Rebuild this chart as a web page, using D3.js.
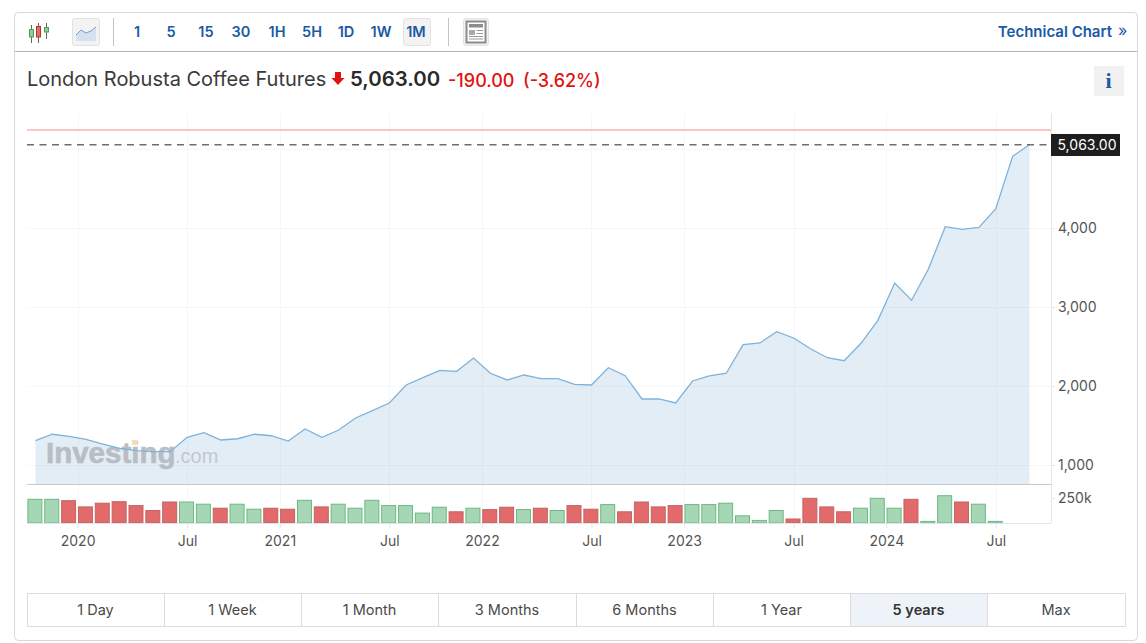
<!DOCTYPE html>
<html lang="en">
<head>
  <meta charset="UTF-8">
  <title>London Robusta Coffee Futures</title>
  <script src="https://d3js.org/d3.v7.min.js"></script>
  <style>
    html, body { margin: 0; background: #fff; }
    svg { display: block; font-family: Inter, "Liberation Sans", sans-serif; }
  </style>
</head>
<body>
  <div id="chart"></div>

  <script>
    // monthly closes, Oct 2019 to Sep 2024
    const months = [
      'Oct 2019', 'Nov 2019', 'Dec 2019', 'Jan 2020', 'Feb 2020', 'Mar 2020', 'Apr 2020', 'May 2020', 'Jun 2020', 'Jul 2020',
      'Aug 2020', 'Sep 2020', 'Oct 2020', 'Nov 2020', 'Dec 2020', 'Jan 2021', 'Feb 2021', 'Mar 2021', 'Apr 2021', 'May 2021',
      'Jun 2021', 'Jul 2021', 'Aug 2021', 'Sep 2021', 'Oct 2021', 'Nov 2021', 'Dec 2021', 'Jan 2022', 'Feb 2022', 'Mar 2022',
      'Apr 2022', 'May 2022', 'Jun 2022', 'Jul 2022', 'Aug 2022', 'Sep 2022', 'Oct 2022', 'Nov 2022', 'Dec 2022', 'Jan 2023',
      'Feb 2023', 'Mar 2023', 'Apr 2023', 'May 2023', 'Jun 2023', 'Jul 2023', 'Aug 2023', 'Sep 2023', 'Oct 2023', 'Nov 2023',
      'Dec 2023', 'Jan 2024', 'Feb 2024', 'Mar 2024', 'Apr 2024', 'May 2024', 'Jun 2024', 'Jul 2024', 'Aug 2024', 'Sep 2024'
    ];
    const closes = [
      1308, 1390, 1363, 1325, 1266, 1212, 1181, 1169, 1169, 1351,
      1410, 1317, 1333, 1390, 1371, 1304, 1457, 1351, 1444, 1596,
      1690, 1786, 2014, 2107, 2200, 2188, 2356, 2163, 2078, 2141,
      2094, 2094, 2023, 2014, 2233, 2132, 1837, 1837, 1786, 2065,
      2131, 2163, 2525, 2547, 2690, 2610, 2474, 2360, 2322, 2543,
      2834, 3307, 3089, 3485, 4021, 3988, 4013, 4249, 4913, 5063
    ];
    // volume in thousands
    const volumes = [
      237, 237, 223, 161, 198, 213, 174, 125, 210, 210,
      188, 148, 188, 138, 148, 138, 227, 161, 188, 148,
      227, 174, 174, 99, 158, 112, 148, 134, 158, 134,
      148, 125, 174, 138, 184, 112, 210, 161, 174, 184,
      184, 198, 72, 26, 125, 40, 247, 161, 112, 148,
      247, 148, 237, 16, 273, 210, 188, 16, 0, 0
    ];
    // u = green volume bar, d = red volume bar
    const volumeDirs = [
      'uudddddddu',
      'uduudduduu',
      'uuuuududdu',
      'duddudddd' + 'u',
      'uuuuuddddu',
      'uuduuduuuu'
    ].join('');
    const lastPrice = 5063;
    const prevClose = 5253;

    const xTickIndex = [2.5, 9, 14.5, 21, 26.5, 33, 38.5, 45, 50.5, 57];
    const xTickLabels = ['2020', 'Jul', '2021', 'Jul', '2022', 'Jul', '2023', 'Jul', '2024', 'Jul'];
    const priceTicks = [1000, 2000, 3000, 4000];
    const priceGrid = [1000, 2000, 3000, 4000, 5000];
    const volumeTicks = [250];

    const intervals = ['1', '5', '15', '30', '1H', '5H', '1D', '1W', '1M'];
    const intervalX = [137, 171, 206, 241, 277, 312, 346, 381, 416];
    const ranges = ['1 Day', '1 Week', '1 Month', '3 Months', '6 Months', '1 Year', '5 years', 'Max'];
    const rangeEdges = [27, 164, 301, 438, 576, 713, 850, 987, 1125];

    const blue = '#1a5aa5';
    const plotLeft = 27, plotRight = 1051, plotTop = 113, priceBottom = 484, volumeBottom = 523;

    const svg = d3.select('#chart').append('svg')
      .attr('width', 1146)
      .attr('height', 643);

    // card and toolbar
    svg.append('rect')
      .attr('x', 14.5).attr('y', 12.5)
      .attr('width', 1123).attr('height', 628)
      .attr('rx', 4)
      .attr('fill', '#fff')
      .attr('stroke', '#d8d8d8');
    svg.append('line')
      .attr('x1', 15).attr('x2', 1137)
      .attr('y1', 51.5).attr('y2', 51.5)
      .attr('stroke', '#b4b4b4');

    [113.5, 448.5].forEach(function(px) {
      svg.append('line')
        .attr('x1', px).attr('x2', px)
        .attr('y1', 18).attr('y2', 46)
        .attr('stroke', '#c4c4c4');
    });

    function toolButton(px, w) {
      svg.append('rect')
        .attr('x', px + 0.5).attr('y', 18.5)
        .attr('width', w).attr('height', 27)
        .attr('rx', 2)
        .attr('fill', '#f3f3f3')
        .attr('stroke', '#e2e2e2');
    }
    toolButton(72, 27);
    toolButton(403, 27);
    toolButton(463, 25);

    // candlestick icon
    const candleIcon = svg.append('g');
    [[31.5, 25, 43, 29.5, 37, '#8fce8f', '#4f9f52'], [38.5, 23, 43, 26.5, 37, '#ea6a60', '#a33c35'], [46.5, 23, 39, 27.5, 32, '#8fce8f', '#4f9f52']]
      .forEach(function(c) {
        candleIcon.append('line')
          .attr('x1', c[0]).attr('x2', c[0])
          .attr('y1', c[1]).attr('y2', c[2])
          .attr('stroke', '#666');
        candleIcon.append('rect')
          .attr('x', c[0] - 2).attr('y', c[3])
          .attr('width', 4).attr('height', c[4] - c[3])
          .attr('fill', c[5])
          .attr('stroke', c[6]);
      });

    // line chart icon
    svg.append('path')
      .attr('d', 'M76,35L81,30L86,33L91,31L96,27V41H76Z')
      .attr('fill', '#d5e1f0');
    svg.append('path')
      .attr('d', 'M76,35L81,30L86,33L91,31L96,27')
      .attr('fill', 'none')
      .attr('stroke', '#7d9cc4');

    // news icon
    svg.append('rect')
      .attr('x', 466.5).attr('y', 21.5)
      .attr('width', 19).attr('height', 21)
      .attr('fill', '#fff')
      .attr('stroke', '#8c8c8c')
      .attr('stroke-width', 2);
    svg.append('rect')
      .attr('x', 469).attr('y', 24)
      .attr('width', 14).attr('height', 3.5)
      .attr('fill', '#8c8c8c');
    svg.append('rect')
      .attr('x', 469).attr('y', 30)
      .attr('width', 6).attr('height', 5)
      .attr('fill', '#aaa');
    [30.5, 33.5, 36.5, 39].forEach(function(py, i) {
      svg.append('line')
        .attr('x1', i < 2 ? 476.5 : 469).attr('x2', 483)
        .attr('y1', py).attr('y2', py)
        .attr('stroke', '#999');
    });

    svg.selectAll('.interval')
      .data(intervals)
      .enter().append('text')
      .attr('class', 'interval')
      .attr('x', (d, i) => intervalX[i])
      .attr('y', 36.5)
      .attr('text-anchor', 'middle')
      .attr('font-size', 14.5)
      .attr('font-weight', 600)
      .attr('fill', blue)
      .text(d => d);

    svg.append('text')
      .attr('x', 1112).attr('y', 36.5)
      .attr('text-anchor', 'end')
      .attr('font-size', 15)
      .attr('font-weight', 600)
      .attr('fill', blue)
      .text('Technical Chart');
    svg.append('text')
      .attr('x', 1118).attr('y', 36)
      .attr('font-size', 16)
      .attr('fill', blue)
      .text('»');

    // quote header
    svg.append('text')
      .attr('x', 27).attr('y', 86)
      .attr('font-size', 20)
      .attr('fill', '#3a3a3a')
      .text('London Robusta Coffee Futures');
    svg.append('path')
      .attr('d', 'M335,72H341V78H344.5L338,85L331.5,78H335Z')
      .attr('fill', '#e0140f');
    svg.append('text')
      .attr('x', 350).attr('y', 86)
      .attr('font-size', 20.4)
      .attr('font-weight', 600)
      .attr('fill', '#2a2a2a')
      .text('5,063.00');
    svg.append('text')
      .attr('x', 448).attr('y', 87)
      .attr('font-size', 18)
      .attr('font-weight', 500)
      .attr('fill', '#e0140f')
      .text('-190.00');
    svg.append('text')
      .attr('x', 523).attr('y', 87)
      .attr('font-size', 18)
      .attr('font-weight', 500)
      .attr('fill', '#e0140f')
      .text('(-3.62%)');

    svg.append('rect')
      .attr('x', 1094).attr('y', 66)
      .attr('width', 30).attr('height', 30)
      .attr('fill', '#f1f1f1');
    svg.append('text')
      .attr('x', 1108.5).attr('y', 88)
      .attr('text-anchor', 'middle')
      .attr('font-family', '"Liberation Serif", serif')
      .attr('font-size', 22)
      .attr('font-weight', 700)
      .attr('fill', blue)
      .text('i');

    // scales
    const x = d3.scaleLinear()
      .domain([0, months.length - 1])
      .range([35.5, 1029.5]);
    const y = d3.scaleLinear()
      .domain([1000, lastPrice])
      .range([465, 144.5]);
    const yVolume = d3.scaleLinear()
      .domain([0, 250])
      .range([523, 498]);

    // grid
    svg.selectAll('.hgrid')
      .data(priceGrid)
      .enter().append('line')
      .attr('class', 'hgrid')
      .attr('x1', plotLeft).attr('x2', plotRight)
      .attr('y1', d => Math.round(y(d)) + 0.5)
      .attr('y2', d => Math.round(y(d)) + 0.5)
      .attr('stroke', '#f6f7f9');
    svg.selectAll('.vgrid')
      .data(xTickIndex)
      .enter().append('line')
      .attr('class', 'vgrid')
      .attr('x1', d => Math.round(x(d)) + 0.5)
      .attr('x2', d => Math.round(x(d)) + 0.5)
      .attr('y1', plotTop).attr('y2', volumeBottom)
      .attr('stroke', '#f6f7f9');

    // price area and line
    const area = d3.area()
      .x((d, i) => x(i))
      .y0(priceBottom)
      .y1(d => y(d));
    const line = d3.line()
      .x((d, i) => x(i))
      .y(d => y(d));

    svg.append('path')
      .datum(closes)
      .attr('d', area)
      .attr('fill', 'rgb(60,130,185)')
      .attr('fill-opacity', 0.14);

    // watermark sits between the area and the line
    svg.append('text')
      .attr('x', 46).attr('y', 463)
      .attr('font-family', '"Liberation Sans", sans-serif')
      .attr('font-size', 29.5)
      .attr('font-weight', 700)
      .attr('fill', '#b9bec4')
      .attr('stroke', '#b9bec4')
      .attr('stroke-width', 0.6)
      .text('Investing');
    svg.append('text')
      .attr('x', 175).attr('y', 463)
      .attr('font-family', '"Liberation Sans", sans-serif')
      .attr('font-size', 20)
      .attr('fill', '#c3c8ce')
      .text('.com');
    svg.append('rect')
      .attr('x', 132).attr('y', 440)
      .attr('width', 5).attr('height', 5)
      .attr('fill', '#f6dcae');

    svg.append('path')
      .datum(closes)
      .attr('d', line)
      .attr('fill', 'none')
      .attr('stroke', '#7fb2da')
      .attr('stroke-width', 1.3);

    // previous close and last price lines
    svg.append('line')
      .attr('x1', plotLeft).attr('x2', plotRight)
      .attr('y1', Math.round(y(prevClose))).attr('y2', Math.round(y(prevClose)))
      .attr('stroke', '#fbc6c0')
      .attr('stroke-width', 2);
    svg.append('line')
      .attr('x1', plotLeft).attr('x2', plotRight + 1)
      .attr('y1', y(lastPrice) + 0.2).attr('y2', y(lastPrice) + 0.2)
      .attr('stroke', '#6e6e6e')
      .attr('stroke-width', 1.5)
      .attr('stroke-dasharray', '7,5.5');

    // volume bars
    svg.selectAll('.volume')
      .data(volumes.map((v, i) => ({ v: v, i: i })).filter(d => d.v > 0))
      .enter().append('rect')
      .attr('class', 'volume')
      .attr('x', d => x(d.i) - 7.6)
      .attr('width', 14)
      .attr('y', d => yVolume(d.v))
      .attr('height', d => yVolume(0) - yVolume(d.v))
      .attr('fill', d => volumeDirs[d.i] === 'u' ? '#a6d7b5' : '#e26a6a')
      .attr('stroke', d => volumeDirs[d.i] === 'u' ? '#6db784' : '#c26464')
      .attr('stroke-width', 1);

    // frame
    svg.append('line')
      .attr('x1', plotLeft).attr('x2', plotRight)
      .attr('y1', priceBottom + 0.5).attr('y2', priceBottom + 0.5)
      .attr('stroke', '#c9c9c9');

    // axes
    const xAxis = d3.axisBottom(x)
      .tickValues(xTickIndex)
      .tickFormat((d, i) => xTickLabels[i])
      .tickSize(5)
      .tickPadding(8);
    const priceAxis = d3.axisRight(y)
      .tickValues(priceTicks)
      .tickFormat(d3.format(','))
      .tickSize(4)
      .tickPadding(3);
    const volumeAxis = d3.axisRight(yVolume)
      .tickValues(volumeTicks)
      .tickFormat(d => d + 'k')
      .tickSize(4)
      .tickPadding(3);

    function styleAxis(g) {
      g.select('.domain').remove();
      g.selectAll('line').attr('stroke', '#e2e5ec');
      g.selectAll('text')
        .attr('font-family', 'Inter, "Liberation Sans", sans-serif')
        .attr('font-size', 14)
        .attr('fill', '#555');
    }

    svg.append('g')
      .attr('transform', 'translate(0,' + volumeBottom + ')')
      .call(xAxis)
      .call(styleAxis);
    svg.append('g')
      .attr('transform', 'translate(' + plotRight + ',0)')
      .call(priceAxis)
      .call(styleAxis);
    svg.append('g')
      .attr('transform', 'translate(' + plotRight + ',0)')
      .call(volumeAxis)
      .call(styleAxis);

    svg.append('line')
      .attr('x1', plotLeft).attr('x2', plotRight)
      .attr('y1', volumeBottom + 0.5).attr('y2', volumeBottom + 0.5)
      .attr('stroke', '#e2e5ec');
    svg.append('line')
      .attr('x1', plotRight + 0.5).attr('x2', plotRight + 0.5)
      .attr('y1', plotTop).attr('y2', volumeBottom)
      .attr('stroke', '#e2e5ec');

    // last price tag
    svg.append('rect')
      .attr('x', plotRight).attr('y', 134)
      .attr('width', 69).attr('height', 22)
      .attr('fill', '#1e1e1e');
    svg.append('text')
      .attr('x', plotRight + 36).attr('y', 150)
      .attr('text-anchor', 'middle')
      .attr('font-size', 14)
      .attr('fill', '#fff')
      .text(d3.format(',.2f')(lastPrice));

    // range buttons
    const rangeButtons = svg.selectAll('.range')
      .data(ranges)
      .enter().append('g')
      .attr('class', 'range');
    rangeButtons.append('rect')
      .attr('x', (d, i) => rangeEdges[i] + 0.5)
      .attr('y', 593.5)
      .attr('width', (d, i) => rangeEdges[i + 1] - rangeEdges[i])
      .attr('height', 33)
      .attr('fill', d => d === '5 years' ? '#edf3f9' : '#fff')
      .attr('stroke', '#dcdcdc');
    rangeButtons.append('text')
      .attr('x', (d, i) => (rangeEdges[i] + rangeEdges[i + 1]) / 2)
      .attr('y', 615)
      .attr('text-anchor', 'middle')
      .attr('font-size', 14.5)
      .attr('font-weight', d => d === '5 years' ? 600 : 400)
      .attr('fill', d => d === '5 years' ? '#333' : '#4a4a4a')
      .text(d => d);
  </script>
</body>
</html>
